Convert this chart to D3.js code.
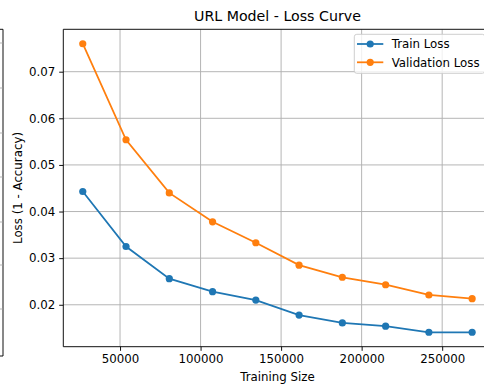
<!DOCTYPE html>
<html>
<head>
<meta charset="utf-8">
<script src="https://cdn.jsdelivr.net/npm/d3@7"></script>
<style>
  html, body { margin: 0; padding: 0; background: #fff; }
  svg { display: block; font-family: "DejaVu Sans", sans-serif; }
</style>
</head>
<body>
<svg id="chart" width="484" height="387"></svg>
<script>
// Learning-curve data for the URL model
const trainSizes = [26860, 53720, 80580, 107440, 134300, 161160, 188020, 214880, 241740, 268600];
const trainLoss = [0.0443, 0.0325, 0.0256, 0.0228, 0.0210, 0.0178, 0.0161, 0.0154, 0.0141, 0.0141];
const valLoss = [0.0760, 0.0554, 0.0440, 0.0378, 0.0333, 0.0285, 0.0259, 0.0243, 0.0221, 0.0213];
const xTicks = [50000, 100000, 150000, 200000, 250000];
const yTicks = [0.02, 0.03, 0.04, 0.05, 0.06, 0.07];
const seriesNames = ["Train Loss", "Validation Loss"];
const seriesColors = ["#1f77b4", "#ff7f0e"];

const svg = d3.select("#chart");
const W = 484, H = 387;
const plot = { left: 63.3, right: 491.6, top: 29.3, bottom: 346.7 };

// Axis limits with a 5% margin around the data
const xPad = (d3.max(trainSizes) - d3.min(trainSizes)) * 0.05;
const allY = trainLoss.concat(valLoss);
const yPad = (d3.max(allY) - d3.min(allY)) * 0.05;
const x = d3.scaleLinear()
  .domain([d3.min(trainSizes) - xPad, d3.max(trainSizes) + xPad])
  .range([plot.left, plot.right]);
const y = d3.scaleLinear()
  .domain([d3.min(allY) - yPad, d3.max(allY) + yPad])
  .range([plot.bottom, plot.top]);

const tickFont = 11.8;
const gridColor = "#b0b0b0";

// Neighbouring subplot's right edge
const neighbour = svg.append("g");
neighbour.append("line").attr("x1", 0).attr("x2", 3).attr("y1", 29.3).attr("y2", 29.3)
  .attr("stroke", "#000").attr("stroke-width", 0.94);
neighbour.append("line").attr("x1", 3).attr("x2", 3).attr("y1", 29.3).attr("y2", 356)
  .attr("stroke", "#000").attr("stroke-width", 0.94);
neighbour.append("line").attr("x1", 0).attr("x2", 3).attr("y1", 356).attr("y2", 356)
  .attr("stroke", "#000").attr("stroke-width", 0.94);
[43, 88, 133, 177, 222, 265, 309].forEach(v => {
  neighbour.append("line").attr("x1", 0).attr("x2", 2.5).attr("y1", v).attr("y2", v)
    .attr("stroke", gridColor).attr("stroke-width", 0.94);
});

const clipId = "plotclip";
svg.append("clipPath").attr("id", clipId).append("rect")
  .attr("x", plot.left).attr("y", plot.top)
  .attr("width", plot.right - plot.left).attr("height", plot.bottom - plot.top);

// Grid lines
const grid = svg.append("g").attr("clip-path", `url(#${clipId})`);
grid.selectAll(".gx").data(xTicks).enter().append("line")
  .attr("x1", d => x(d)).attr("x2", d => x(d))
  .attr("y1", plot.top).attr("y2", plot.bottom)
  .attr("stroke", gridColor).attr("stroke-width", 0.94);
grid.selectAll(".gy").data(yTicks).enter().append("line")
  .attr("x1", plot.left).attr("x2", plot.right)
  .attr("y1", d => y(d)).attr("y2", d => y(d))
  .attr("stroke", gridColor).attr("stroke-width", 0.94);

// Axes
const xAxis = svg.append("g").attr("transform", `translate(0,${plot.bottom})`)
  .call(d3.axisBottom(x).tickValues(xTicks).tickFormat(d3.format("d")).tickSize(4.1).tickPadding(4));
const yAxis = svg.append("g").attr("transform", `translate(${plot.left},0)`)
  .call(d3.axisLeft(y).tickValues(yTicks).tickFormat(d3.format(".2f")).tickSize(4.1).tickPadding(4));
[xAxis, yAxis].forEach(a => {
  a.select(".domain").remove();
  a.selectAll(".tick line").attr("stroke", "#000").attr("stroke-width", 0.94);
  a.selectAll(".tick text").attr("fill", "#000").style("font-size", tickFont + "px")
    .style("font-family", "'DejaVu Sans', sans-serif");
});

// Series lines with markers
const lineGen = d3.line().x(d => x(d[0])).y(d => y(d[1]));
const series = [trainLoss, valLoss];
const dataG = svg.append("g").attr("clip-path", `url(#${clipId})`);
series.forEach((vals, i) => {
  const pts = trainSizes.map((s, j) => [s, vals[j]]);
  dataG.append("path").datum(pts).attr("d", lineGen)
    .attr("fill", "none").attr("stroke", seriesColors[i]).attr("stroke-width", 1.77);
  dataG.selectAll(".m" + i).data(pts).enter().append("circle")
    .attr("cx", d => x(d[0])).attr("cy", d => y(d[1])).attr("r", 3.6)
    .attr("fill", seriesColors[i]);
});

// Spines
const spines = svg.append("g").attr("stroke", "#000").attr("stroke-width", 0.94);
spines.append("line").attr("x1", plot.left).attr("x2", plot.left).attr("y1", plot.top).attr("y2", plot.bottom);
spines.append("line").attr("x1", plot.left).attr("x2", plot.right).attr("y1", plot.bottom).attr("y2", plot.bottom);
spines.append("line").attr("x1", plot.left).attr("x2", plot.right).attr("y1", plot.top).attr("y2", plot.top);
spines.append("line").attr("x1", plot.right).attr("x2", plot.right).attr("y1", plot.top).attr("y2", plot.bottom);

// Title and axis labels
const cx = (plot.left + plot.right) / 2;
svg.append("text").attr("x", cx).attr("y", 21).attr("text-anchor", "middle")
  .style("font-size", "14.2px").attr("fill", "#000").text("URL Model - Loss Curve");
svg.append("text").attr("x", cx).attr("y", 381).attr("text-anchor", "middle")
  .style("font-size", tickFont + "px").attr("fill", "#000").text("Training Size");
svg.append("text").attr("transform", `translate(21.5,${(plot.top + plot.bottom) / 2}) rotate(-90)`)
  .attr("text-anchor", "middle").style("font-size", tickFont + "px").attr("fill", "#000")
  .text("Loss (1 - Accuracy)");

// Legend
const legend = svg.append("g");
legend.append("rect").attr("x", 354.3).attr("y", 34.3).attr("width", 130.5).attr("height", 39)
  .attr("rx", 2.5).attr("fill", "#fff").attr("fill-opacity", 0.8)
  .attr("stroke", "#cccccc").attr("stroke-width", 0.94);
seriesNames.forEach((name, i) => {
  const ry = 44 + i * 18.3;
  legend.append("line").attr("x1", 357).attr("x2", 383.3).attr("y1", ry).attr("y2", ry)
    .attr("stroke", seriesColors[i]).attr("stroke-width", 1.77);
  legend.append("circle").attr("cx", 370.2).attr("cy", ry).attr("r", 3.6).attr("fill", seriesColors[i]);
  legend.append("text").attr("x", 391.7).attr("y", ry + 4.2)
    .style("font-size", tickFont + "px").attr("fill", "#000").text(name);
});
</script>
</body>
</html>
